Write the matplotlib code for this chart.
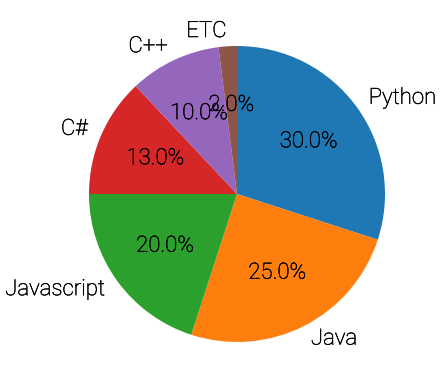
import matplotlib.pyplot as plt
import matplotlib.patheffects as pe

plt.rcParams['font.family'] = ['Roboto', 'DejaVu Sans']
plt.rcParams['font.weight'] = 'light'
plt.rcParams['font.size'] = 16

languages = ['Python', 'Java', 'Javascript', 'C#', 'C++', 'ETC']
shares = [30, 25, 20, 13, 10, 2]

fig = plt.figure(figsize=(4.45, 3.89), dpi=100)
ax = fig.add_axes([52 / 445, 10 / 389, 370 / 445, 370 / 389])
# light face with a hairline stroke, to get the thin-but-dark look of the original
ax.pie(shares, labels=languages, autopct='%.1f%%', startangle=90, counterclock=False,
       textprops={'color': 'black',
                  'path_effects': [pe.withStroke(linewidth=0.35, foreground='black')]})
fig.savefig('out.png', dpi=100)
